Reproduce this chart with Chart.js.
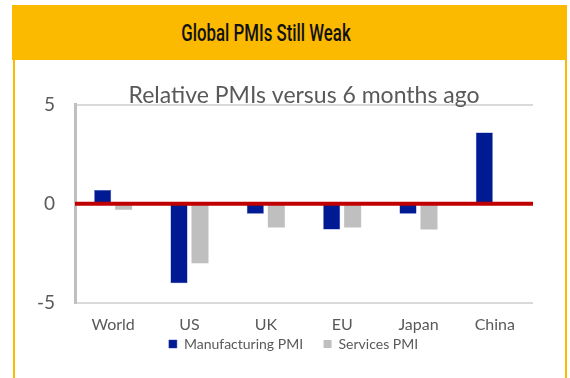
<!DOCTYPE html>
<html>
<head>
<meta charset="utf-8">
<script src="https://cdn.jsdelivr.net/npm/chart.js@4/dist/chart.umd.min.js"></script>
<style>
  html, body { margin:0; padding:0; background:#fff; }
  body { width:570px; height:378px; position:relative; overflow:hidden; }
  .banner {
    position:absolute; left:12px; top:5px; width:555px; height:55px;
    background:#FBB900;
  }
  .banner span {
    position:absolute; left:254px; top:28px;
    transform: translate(-50%, -50%) scaleX(0.7);
    font-family:Roboto, sans-serif; font-weight:500;
    font-size:24px; color:#111; white-space:nowrap;
  }
  .frame {
    position:absolute; left:13px; top:60px; width:550px; height:330px;
    border-left:2px solid #FBB900; border-right:2px solid #FBB900;
  }
  #wrap { position:absolute; left:0; top:0; width:570px; height:378px; }
</style>
</head>
<body>
<div class="banner"><span>Global PMIs Still Weak</span></div>
<div class="frame"></div>
<div id="wrap"><canvas id="pmiChart" width="570" height="378"></canvas></div>
<script>
// ====== DATA ======
const categories = ['World', 'US', 'UK', 'EU', 'Japan', 'China'];
const manufacturing = [0.7, -4.0, -0.5, -1.3, -0.5, 3.6];
const services = [-0.3, -3.0, -1.2, -1.2, -1.3, null];
const yTicks = [-5, 0, 5];

const GREY_TEXT = '#595959';

// red zero line, drawn over the bars
const zeroLine = {
  id: 'zeroLine',
  afterDatasetsDraw(chart){
    const { ctx, chartArea, scales } = chart;
    const y = scales.y.getPixelForValue(0);
    ctx.save();
    ctx.strokeStyle = '#C00000';
    ctx.lineWidth = 4;
    ctx.beginPath();
    ctx.moveTo(chartArea.left, y);
    ctx.lineTo(chartArea.right, y);
    ctx.stroke();
    ctx.restore();
  }
};

const ctx = document.getElementById('pmiChart').getContext('2d');
new Chart(ctx, {
  type: 'bar',
  data: {
    labels: categories,
    datasets: [
      { label: 'Manufacturing PMI', data: manufacturing, backgroundColor: '#001A94',
        borderColor: '#2a3fa8', borderWidth: 0.5, categoryPercentage: 0.55, barPercentage: 0.81 },
      { label: 'Services PMI', data: services, backgroundColor: '#BFBFBF',
        categoryPercentage: 0.55, barPercentage: 0.81 }
    ]
  },
  options: {
    responsive: false,
    animation: false,
    devicePixelRatio: 1,
    layout: { padding: { left: 0, right: 37, top: 82, bottom: 17 } },
    plugins: {
      title: {
        display: true,
        fullSize: false,
        text: 'Relative PMIs versus 6 months ago',
        color: GREY_TEXT,
        font: { family: 'Lato', size: 23, weight: 'normal' },
        padding: { top: 0, bottom: -5 }
      },
      legend: {
        position: 'bottom',
        fullSize: false,
        labels: {
          color: GREY_TEXT,
          font: { family: 'Lato', size: 14 },
          boxWidth: 8, boxHeight: 8,
          padding: 3,
          // small vertical padding, wider gap between the two items,
          // trailing room on the last one nudges the row left
          generateLabels: (chart) => {
            const items = Chart.defaults.plugins.legend.labels.generateLabels(chart);
            items[0].text += '\u2003\u2002';
            items[1].text += '\u2003\u2003';
            return items;
          }
        }
      },
      tooltip: { enabled: false }
    },
    scales: {
      x: {
        afterFit: (s) => { s.height = 31; },
        grid: { display: false, drawTicks: false },
        border: { display: false },
        ticks: { color: GREY_TEXT, font: { family: 'Lato', size: 16 }, padding: 12 }
      },
      y: {
        min: -5, max: 5,
        afterBuildTicks: (s) => { s.ticks = yTicks.map(v => ({ value: v })); },
        afterFit: (s) => { s.width = 75; },
        grid: {
          drawTicks: false,
          color: (c) => c.tick && c.tick.value === 0 ? 'rgba(0,0,0,0)' : '#D9D9D9',
          lineWidth: 2
        },
        border: { color: '#BFBFBF', width: 3 },
        ticks: { color: GREY_TEXT, font: { family: 'Lato', size: 19 }, padding: 20 }
      }
    }
  },
  plugins: [zeroLine]
});
</script>
</body>
</html>
